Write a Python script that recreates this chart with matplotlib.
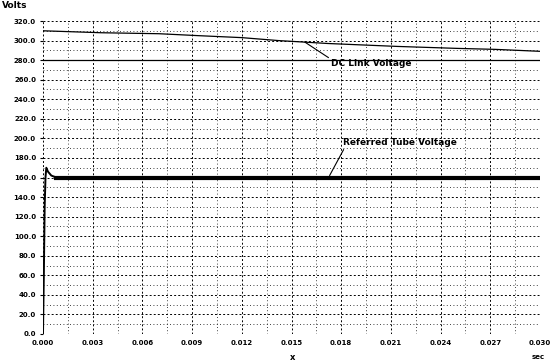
import matplotlib.pyplot as plt
import numpy as np

# DC link voltage
dc_t = [0.0, 0.0035, 0.0070, 0.0094, 0.0120, 0.0142, 0.0172, 0.0214, 0.0250, 0.0273, 0.0300]
dc_v = [310, 308, 307, 305, 303, 300, 297, 294, 292, 291, 289]

# referred tube voltage: fast rise + overshoot, then flat
rise_t = [0.0, 0.00005, 0.0001, 0.00015, 0.0002, 0.0003, 0.0005, 0.0008]
rise_v = [0, 60, 130, 160, 170, 166, 162, 160]
tube_t = [0.0008, 0.0100, 0.0200, 0.0300]
tube_v = [160, 160, 160, 160]

# flat line at 280 V
ref_t = [0.0, 0.030]
ref_v = [280, 280]

xticks = [0.000, 0.003, 0.006, 0.009, 0.012, 0.015, 0.018, 0.021, 0.024, 0.027, 0.030]
yticks = list(range(0, 321, 20))


def main():
	fig = plt.figure(figsize=(5.51, 3.62), dpi=100)
	ax = fig.add_axes([43/551, 28/362, 497/551, 313/362])

	ax.plot(ref_t, ref_v, color='black', lw=0.9)
	ax.plot(dc_t, dc_v, color='black', lw=0.9)
	ax.plot(rise_t, rise_v, color='black', lw=1.4)
	ax.plot(tube_t, tube_v, color='black', lw=3.0)

	ax.set_xlim(0, 0.030)
	ax.set_ylim(0, 320)
	ax.set_xticks(xticks)
	ax.set_xticks(np.arange(0, 0.0301, 0.0015), minor=True)
	ax.set_yticks(yticks)
	ax.set_yticks(range(0, 321, 10), minor=True)
	ax.set_xticklabels(['%.3f' % v for v in xticks], fontsize=5, fontweight='bold')
	ax.set_yticklabels(['%.1f' % v for v in yticks], fontsize=5, fontweight='bold')
	ax.tick_params(which='both', length=0, pad=4)
	ax.tick_params(axis='y', which='major', length=2, pad=3)

	ax.grid(which='major', color='black', linestyle=(0, (2, 2.2)), lw=0.7)
	ax.grid(which='minor', color='black', linestyle=(0, (1, 3)), lw=0.6)
	for s in ax.spines.values():
		s.set_visible(False)

	ax.annotate('DC Link Voltage', xy=(0.0158, 298.5), xytext=(0.0174, 277),
				fontsize=6.5, fontweight='bold', va='center', ha='left',
				arrowprops=dict(arrowstyle='-', color='black', lw=0.8, relpos=(0, 0.9),
								shrinkA=0, shrinkB=0))
	ax.annotate('Referred Tube Voltage', xy=(0.0173, 162), xytext=(0.0181, 196),
				fontsize=6.5, fontweight='bold', va='center', ha='left',
				arrowprops=dict(arrowstyle='-', color='black', lw=0.8, relpos=(0.02, 0),
								shrinkA=0, shrinkB=0))

	fig.text(2/551, 1 - 6/362, 'Volts', fontsize=6.5, fontweight='bold', va='center', ha='left')
	fig.text(293/551, 1 - 357/362, 'x', fontsize=6, fontweight='bold', va='center', ha='center')
	fig.text(538/551, 1 - 357/362, 'sec', fontsize=5, fontweight='bold', va='center', ha='center')

	fig.savefig('out.png', dpi=100)


if __name__ == '__main__':
	main()
